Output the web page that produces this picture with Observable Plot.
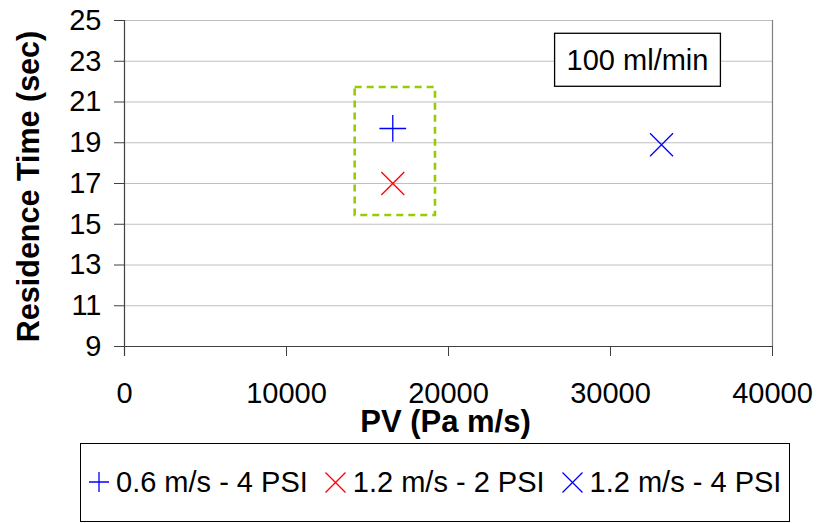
<!DOCTYPE html>
<html>
<head>
<meta charset="utf-8">
<script src="https://cdn.jsdelivr.net/npm/d3@7"></script>
<script src="https://cdn.jsdelivr.net/npm/@observablehq/plot@0.6"></script>
<style>
  body { margin: 0; background: #fff; font-family: "Liberation Sans", Arial, sans-serif; }
  #chart { position: relative; width: 818px; height: 523px; }
  #legend {
    position: absolute; left: 80px; top: 443px; width: 710px; height: 79px;
    box-sizing: border-box; border: 1px solid #000; background: #fff;
    display: flex; align-items: center; padding-left: 8px;
    font-size: 29px; color: #000; white-space: nowrap;
  }
  .item { display: flex; align-items: center; margin-right: 17px; }
  .item svg { margin-right: 7px; overflow: visible; }
</style>
</head>
<body>
<div id="chart"></div>
<script>
// Residence time against PV at 100 ml/min
const series = ["0.6 m/s - 4 PSI", "1.2 m/s - 2 PSI", "1.2 m/s - 4 PSI"];
const pv = [16560, 16560, 33150];
const residenceTime = [19.7, 17.0, 18.9];
const colors = ["#0000ff", "#ff0000", "#0000ff"];
const symbols = ["plus", "times", "times"];
const highlighted = ["0.6 m/s - 4 PSI", "1.2 m/s - 2 PSI"];
const xTicks = [0, 10000, 20000, 30000, 40000];
const yTicks = [9, 11, 13, 15, 17, 19, 21, 23, 25];
const annotation = ["100 ml/min"];

const rows = series.map((s, i) => ({series: s, pv: pv[i], time: residenceTime[i]}));
const group = rows.filter(d => highlighted.includes(d.series));
const groupBox = [{
  x1: d3.min(group, d => d.pv), x2: d3.max(group, d => d.pv),
  y1: d3.min(group, d => d.time), y2: d3.max(group, d => d.time)
}];

const markerRadius = {plus: 8.65, times: 10.5};
const fontFamily = '"Liberation Sans", Arial, sans-serif';
const axisColor = "#404040";

const chart = Plot.plot({
  width: 818,
  height: 440,
  marginLeft: 124,
  marginRight: 46,
  marginTop: 20,
  marginBottom: 94,
  style: {fontFamily, fontSize: "29px", color: "#000", background: "transparent"},
  x: {domain: [xTicks[0], xTicks[xTicks.length - 1]]},
  y: {domain: [yTicks[0], yTicks[yTicks.length - 1]]},
  marks: [
    Plot.gridY(yTicks, {stroke: "#c0c0c0", strokeOpacity: 1, strokeWidth: 1.2}),
    Plot.ruleX([xTicks[xTicks.length - 1]], {stroke: "#808080", strokeWidth: 1.2}),
    Plot.ruleY([yTicks[0]], {stroke: axisColor, strokeWidth: 1.2}),
    Plot.ruleX([xTicks[0]], {stroke: axisColor, strokeWidth: 1.2, insetBottom: -10}),
    Plot.axisY(yTicks, {
      tickSize: 10, tickPadding: 13, stroke: axisColor, label: null, fontSize: 29
    }),
    Plot.axisX(xTicks, {
      tickSize: 10, tickPadding: 26, stroke: axisColor, label: null, fontSize: 29,
      tickFormat: d => String(d)
    }),
    Plot.text(["PV (Pa m/s)"], {
      frameAnchor: "bottom", textAnchor: "middle", lineAnchor: "middle",
      dx: -3, dy: 76, fontSize: 31, fontWeight: "bold"
    }),
    Plot.text(["Residence Time (sec)"], {
      frameAnchor: "left", textAnchor: "middle", lineAnchor: "middle", rotate: -90,
      dx: -95, dy: 3, fontSize: 30.5, fontWeight: "bold"
    }),
    // dashed outline around the 16 560 Pa m/s pair
    Plot.rect(groupBox, {
      x1: "x1", x2: "x2", y1: "y1", y2: "y2",
      fill: "none", stroke: "#99cc00", strokeWidth: 2.6, strokeDasharray: "7,5",
      insetLeft: -37.6, insetRight: -42.7, insetTop: -41, insetBottom: -32
    }),
    ...rows.map((d, i) => Plot.dot([d], {
      x: "pv", y: "time", symbol: symbols[i], r: markerRadius[symbols[i]],
      stroke: colors[i], strokeWidth: 1.3
    })),
    Plot.text(annotation, {
      frameAnchor: "top-right", textAnchor: "middle", lineAnchor: "middle",
      dx: -135, dy: 40, fontSize: 29
    })
  ]
});

const container = document.getElementById("chart");
container.appendChild(chart);

// framed box behind the flow-rate note
const note = Array.from(chart.querySelectorAll("text"))
  .find(t => t.textContent === annotation[0]);
if (note) {
  const b = note.getBBox();
  const padX = 12, padY = 10.5;
  const box = document.createElementNS("http://www.w3.org/2000/svg", "rect");
  box.setAttribute("x", b.x - padX);
  box.setAttribute("y", b.y - padY);
  box.setAttribute("width", b.width + 2 * padX);
  box.setAttribute("height", b.height + 2 * padY);
  box.setAttribute("fill", "#fff");
  box.setAttribute("stroke", "#000");
  box.setAttribute("stroke-width", "1.3");
  const t = note.getAttribute("transform");
  if (t) box.setAttribute("transform", t);
  note.parentNode.insertBefore(box, note);
}

// legend below the plot
const legend = document.createElement("div");
legend.id = "legend";
const glyph = {
  plus: '<path d="M0 10H20M10 0V20"/>',
  times: '<path d="M0.5 0.5L20.5 20.5M0.5 20.5L20.5 0.5"/>'
};
series.forEach((s, i) => {
  const item = document.createElement("div");
  item.className = "item";
  const w = symbols[i] === "plus" ? 20 : 21;
  item.innerHTML =
    `<svg width="${w}" height="21" viewBox="0 0 ${w} 21" fill="none" stroke="${colors[i]}" stroke-width="1.3">${glyph[symbols[i]]}</svg>` +
    `<span>${s}</span>`;
  legend.appendChild(item);
});
container.appendChild(legend);
</script>
</body>
</html>
